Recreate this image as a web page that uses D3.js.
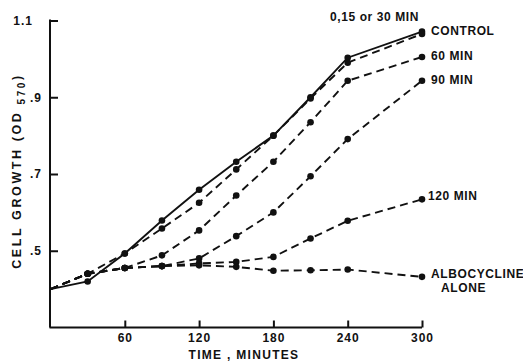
<!DOCTYPE html>
<html>
<head>
<meta charset="utf-8">
<script src="https://cdn.jsdelivr.net/npm/d3@7"></script>
<style>
  html, body { margin: 0; padding: 0; background: #fff; }
  svg { display: block; }
  text { font-family: "Liberation Sans", Arial, sans-serif; font-weight: bold; fill: #111; }
</style>
</head>
<body>
<svg id="chart" width="523" height="361"></svg>
<script>
// ---- data ----
const times = [0, 30, 60, 90, 120, 150, 180, 210, 240, 300];
const control   = [0.40, 0.42, 0.493, 0.579, 0.659, 0.732, 0.800, 0.900, 1.003, 1.071];
const min0to30  = [0.40, 0.44, 0.493, 0.558, 0.625, 0.712, 0.800, 0.897, 0.990, 1.065];
const min60     = [0.40, 0.44, 0.455, 0.488, 0.553, 0.644, 0.732, 0.835, 0.943, 1.005];
const min90     = [0.40, 0.44, 0.455, 0.460, 0.480, 0.538, 0.600, 0.694, 0.791, 0.943];
const min120    = [0.40, 0.44, 0.455, 0.460, 0.467, 0.471, 0.484, 0.532, 0.578, 0.634];
const alboAlone = [0.40, 0.44, 0.455, 0.460, 0.462, 0.458, 0.448, 0.449, 0.451, 0.432];

const xTickValues = [60, 120, 180, 240, 300];
const xTickLabels = ["60", "120", "180", "240", "300"];
const yTickValues = [0.5, 0.7, 0.9, 1.1];
const yTickLabels = [".5", ".7", ".9", "1.1"];

const seriesNames = ["CONTROL", "0,15 or 30 MIN", "60 MIN", "90 MIN", "120 MIN", "ALBOCYCLINE ALONE"];
const seriesValues = [control, min0to30, min60, min90, min120, alboAlone];
const seriesDashed = [false, true, true, true, true, true];

// ---- chart ----
const svg = d3.select("#chart");
const x = d3.scaleLinear().domain([0, 300]).range([50.5, 422]);
const y = d3.scaleLinear().domain([0.3, 1.1]).range([327.5, 20.5]);
const ink = "#111";

// axes
const xAxis = d3.axisBottom(x)
  .tickValues(xTickValues)
  .tickFormat((d, i) => xTickLabels[i])
  .tickSizeInner(-7).tickSizeOuter(0).tickPadding(6);
const gx = svg.append("g").attr("transform", `translate(0,${y(0.3)})`).call(xAxis);
gx.select(".domain").attr("d", `M${x(0) - 1},0H${x(300)}`);

const yAxis = d3.axisLeft(y)
  .tickValues(yTickValues)
  .tickFormat((d, i) => yTickLabels[i])
  .tickSizeInner(-8).tickSizeOuter(0).tickPadding(8);
const gy = svg.append("g").attr("transform", `translate(${x(0) - 0.5},0)`).call(yAxis);
gy.select(".domain").attr("d", `M0,${y(1.1) - 1}V${y(0.3)}`);

[gx, gy].forEach(g => {
  g.selectAll(".domain, .tick line").attr("stroke", ink).attr("stroke-width", 2);
  g.selectAll(".tick text").attr("font-size", 12).attr("letter-spacing", "1px")
    .attr("fill", ink).style("font-family", "'Liberation Sans', Arial, sans-serif").style("font-weight", "bold");
});
gy.selectAll(".tick text").filter(d => d === 1.1).attr("dx", -9);

// lines
const line = d3.line().x((d, i) => x(times[i])).y(d => y(d));
seriesValues.forEach((vals, k) => {
  svg.append("path")
    .attr("d", line(vals))
    .attr("fill", "none")
    .attr("stroke", ink)
    .attr("stroke-width", 1.9)
    .attr("stroke-dasharray", seriesDashed[k] ? "8,5" : null);
});
seriesValues.forEach(vals => {
  svg.append("g").selectAll("circle")
    .data(vals.map((v, i) => ({ t: times[i], v })).filter(d => d.t > 0))
    .join("circle")
    .attr("cx", d => x(d.t)).attr("cy", d => y(d.v)).attr("r", 3.3)
    .attr("fill", ink);
});

// series labels
const lab = (txt, tx, ty, anchor) => svg.append("text")
  .attr("x", tx).attr("y", ty).attr("font-size", 12).attr("letter-spacing", "0.6px")
  .attr("dominant-baseline", "central").attr("text-anchor", anchor || "start").text(txt);
const lastT = times[times.length - 1];
const xl = x(lastT) + 9;
lab(seriesNames[0], xl, y(control[control.length - 1]) - 0.5);
svg.append("text").attr("x", 374.5).attr("y", 17).attr("font-size", 12).attr("letter-spacing", "0.6px")
  .attr("dominant-baseline", "central").attr("text-anchor", "middle").text(seriesNames[1]);
lab(seriesNames[2], xl, y(min60[min60.length - 1]) - 1);
lab(seriesNames[3], xl, y(min90[min90.length - 1]) - 1);
lab(seriesNames[4], x(lastT) + 6, y(min120[min120.length - 1]) - 3);
lab("ALBOCYCLINE", xl, y(alboAlone[alboAlone.length - 1]) - 2.5);
lab("ALONE", xl + 10, y(alboAlone[alboAlone.length - 1]) + 11);

// axis titles
svg.append("text").attr("x", 244).attr("y", 355).attr("font-size", 12).attr("letter-spacing", "1.3px")
  .attr("dominant-baseline", "central").attr("text-anchor", "middle").text("TIME , MINUTES");

const yt = svg.append("text")
  .attr("transform", "translate(17,171) rotate(-90)")
  .attr("font-size", 12.5).attr("letter-spacing", "2.6px")
  .attr("dominant-baseline", "central").attr("text-anchor", "middle");
yt.append("tspan").text("CELL GROWTH (OD ");
yt.append("tspan").attr("font-size", 10).attr("dy", 4).text("570");
yt.append("tspan").attr("dy", -4).text(")");
</script>
</body>
</html>
